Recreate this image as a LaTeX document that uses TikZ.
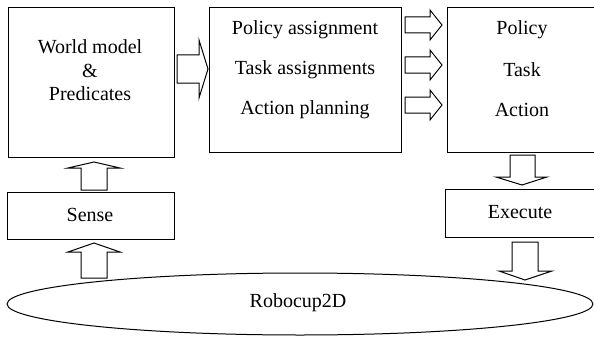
\documentclass[tikz,border=0pt]{standalone}
\usepackage{fontspec}
\setmainfont{Liberation Serif}
\begin{document}
\begin{tikzpicture}[x=1pt,y=-1pt,
  box/.style={draw=black,line width=1pt,fill=white,rectangle,inner sep=0pt,anchor=north west},
  lbl/.style={font=\fontsize{20}{23.5}\selectfont,inner sep=0pt,align=center},
  blockarrow/.style={draw=black,line width=1pt,fill=white,line join=miter}]
\useasboundingbox (0,0) rectangle (594,337);
\clip (0,0) rectangle (594,337);
% boxes
\node[box,minimum width=166pt,minimum height=150pt] (world) at (8,7) {};
\node[box,minimum width=192pt,minimum height=145pt] (plan) at (209,7) {};
\node[box,minimum width=160pt,minimum height=145pt] (out) at (447,7) {};
\node[box,minimum width=167pt,minimum height=47pt] (sense) at (7,192) {};
\node[box,minimum width=160pt,minimum height=48pt] (exec) at (445,189) {};
\draw[line width=1pt] (300,304) ellipse [x radius=293pt, y radius=31pt];
\node[inner sep=0pt] (robo) at (300,304) {};
% texts
\node[lbl] (wtxt) at (90,70.5) {World model\\\&\\Predicates};
\node[lbl] (p1) at (305,30) {Policy assignment};
\node[lbl] (p2) at (305,70) {Task assignments};
\node[lbl] (p3) at (305,110) {Action planning};
\node[lbl] (o1) at (522,30) {Policy};
\node[lbl] (o2) at (522,70) {Task};
\node[lbl] (o3) at (522,110) {Action};
\node[lbl] (stxt) at (90,215) {Sense};
\node[lbl] (etxt) at (520,212) {Execute};
\node[lbl] (rtxt) at (298,303) {Robocup2D};
% block arrows
\draw[blockarrow] (177,55)--(199,55)--(199,40)--(208,69)--(199,98)--(199,83)--(177,83)--cycle;
\foreach \c in {25,65,105}{
  \draw[blockarrow] (405,\c-8)--(430,\c-8)--(430,\c-15)--(442,\c)--(430,\c+15)--(430,\c+8)--(405,\c+8)--cycle;
}
\draw[blockarrow] (81,190)--(81,168)--(68,168)--(94,162)--(120,168)--(107,168)--(107,190)--cycle;
\draw[blockarrow] (81,278)--(81,252)--(68,252)--(94,243)--(120,252)--(107,252)--(107,278)--cycle;
\draw[blockarrow] (510,155)--(510,177)--(496,177)--(522,185)--(547,177)--(535,177)--(535,155)--cycle;
\draw[blockarrow] (512,242)--(512,271)--(499,271)--(525,280)--(552,271)--(538,271)--(538,242)--cycle;
\end{tikzpicture}
\end{document}
